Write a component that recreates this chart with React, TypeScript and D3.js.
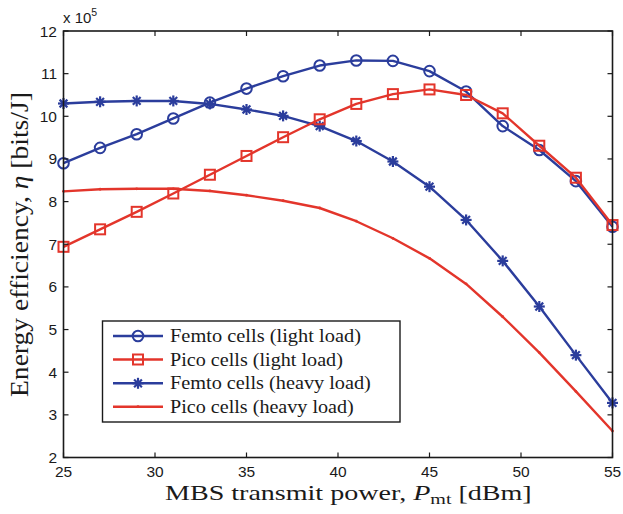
import React, { useLayoutEffect, useRef, useState } from "react";
import * as d3 from "d3";

const xPower = [25, 27, 29, 31, 33, 35, 37, 39, 41, 43, 45, 47, 49, 51, 53, 55];
const femtoLight = [8.9, 9.26, 9.58, 9.95, 10.32, 10.65, 10.94, 11.19, 11.31, 11.3, 11.06, 10.58, 9.77, 9.21, 8.48, 7.41];
const picoLight = [6.94, 7.35, 7.76, 8.19, 8.63, 9.07, 9.51, 9.93, 10.29, 10.52, 10.63, 10.5, 10.07, 9.31, 8.56, 7.45];
const femtoHeavy = [10.3, 10.34, 10.36, 10.36, 10.29, 10.16, 10.01, 9.77, 9.42, 8.94, 8.35, 7.57, 6.61, 5.54, 4.4, 3.28];
const picoHeavy = [8.24, 8.29, 8.3, 8.3, 8.25, 8.15, 8.02, 7.85, 7.54, 7.14, 6.67, 6.07, 5.3, 4.46, 3.55, 2.62];
const xTicks = [25, 30, 35, 40, 45, 50, 55];
const yTicks = [2, 3, 4, 5, 6, 7, 8, 9, 10, 11, 12];
const legendLabels = [
  "Femto cells (light load)",
  "Pico cells (light load)",
  "Femto cells (heavy load)",
  "Pico cells (heavy load)",
];

const BLUE = "#2b3d9c";
const RED = "#e3352b";

const W = 623, H = 514;
const L = 63.5, R = 612.5, T = 31, B = 457.5;

const tickStyle = { fontFamily: "'Liberation Sans', Arial, Helvetica, sans-serif" };
const serifStyle = { fontFamily: "'Liberation Serif', 'Times New Roman', Times, serif" };

// Text stretched horizontally (in its own direction) to a target width
function FitText({ x, y, width, rotate = 0, fontSize, anchor = "start", children }: any) {
  const ref = useRef<SVGTextElement>(null);
  const [s, setS] = useState(1);
  useLayoutEffect(() => {
    if (ref.current) {
      const w = ref.current.getBBox().width;
      if (w > 0) setS(width / w);
    }
  }, [width]);
  return (
    <g transform={`translate(${x},${y}) rotate(${rotate}) scale(${s},1)`}>
      <text ref={ref} x={0} y={0} textAnchor={anchor} style={serifStyle} fontSize={fontSize} fill="#1a1a1a">
        {children}
      </text>
    </g>
  );
}

function Marker({ kind, x, y, color }: { kind: string; x: number; y: number; color: string }) {
  if (kind === "circle")
    return <circle cx={x} cy={y} r={5.3} fill="none" stroke={color} strokeWidth={2} />;
  if (kind === "square")
    return <rect x={x - 5} y={y - 5} width={10} height={10} fill="none" stroke={color} strokeWidth={2} />;
  if (kind === "star") {
    const r = 5.5;
    const lines = [0, 45, 90, 135].map((a) => {
      const rad = (a * Math.PI) / 180;
      return (
        <line key={a} x1={x - r * Math.cos(rad)} y1={y - r * Math.sin(rad)} x2={x + r * Math.cos(rad)} y2={y + r * Math.sin(rad)} stroke={color} strokeWidth={2.2} />
      );
    });
    return <g>{lines}<circle cx={x} cy={y} r={2.5} fill={color} /></g>;
  }
  if (kind === "point") return <circle cx={x} cy={y} r={1.4} fill={color} />;
  return null;
}

export default function App() {
  const x = d3.scaleLinear().domain([25, 55]).range([L, R]);
  const y = d3.scaleLinear().domain([2, 12]).range([B, T]);
  const line = d3.line<number>().x((_, i) => x(xPower[i])).y((d) => y(d));

  const series = [
    { data: femtoLight, color: BLUE, kind: "circle" },
    { data: picoLight, color: RED, kind: "square" },
    { data: femtoHeavy, color: BLUE, kind: "star" },
    { data: picoHeavy, color: RED, kind: "point" },
  ];
  const order = [3, 2, 0, 1];

  const legX = 102.5, legY = 321, legW = 297.5, legH = 101;
  const legRows = [336, 359.5, 383.3, 406.7];
  const legWidths = [191, 173, 201, 184];

  return (
    <svg width={W} height={H} style={{ position: "absolute", left: 0, top: 0 }}>
      <rect x={0} y={0} width={W} height={H} fill="#fff" />
      {order.map((si) => {
        const s = series[si];
        return (
          <g key={si}>
            <path d={line(s.data) || ""} fill="none" stroke={s.color} strokeWidth={2.4} strokeLinejoin="round" />
            {s.data.map((v, i) => (
              <Marker key={i} kind={s.kind} x={x(xPower[i])} y={y(v)} color={s.color} />
            ))}
          </g>
        );
      })}
      <rect x={L} y={T} width={R - L} height={B - T} fill="none" stroke="#1a1a1a" strokeWidth={1.6} />
      {xTicks.map((t) => (
        <g key={"x" + t}>
          <line x1={x(t)} x2={x(t)} y1={B} y2={B - 5} stroke="#1a1a1a" strokeWidth={1.2} />
          <line x1={x(t)} x2={x(t)} y1={T} y2={T + 5} stroke="#1a1a1a" strokeWidth={1.2} />
          <text x={x(t)} y={476.5} textAnchor="middle" style={tickStyle} fontSize={15.5} fill="#1a1a1a">{t}</text>
        </g>
      ))}
      {yTicks.map((t) => (
        <g key={"y" + t}>
          <line x1={L} x2={L + 5} y1={y(t)} y2={y(t)} stroke="#1a1a1a" strokeWidth={1.2} />
          <line x1={R} x2={R - 5} y1={y(t)} y2={y(t)} stroke="#1a1a1a" strokeWidth={1.2} />
          <text x={57} y={y(t) + 5.5} textAnchor="end" style={tickStyle} fontSize={15.5} fill="#1a1a1a">{t}</text>
        </g>
      ))}
      <text x={63} y={23} style={tickStyle} fontSize={15} fill="#1a1a1a">
        x 10<tspan fontSize={10.5} dy={-7}>5</tspan>
      </text>
      <FitText x={165} y={499.5} width={367} fontSize={21}>
        MBS transmit power, <tspan fontStyle="italic">P</tspan><tspan fontSize={15} dy={4}>mt</tspan><tspan dy={-4}> [dBm]</tspan>
      </FitText>
      <FitText x={27.5} y={397} width={305} rotate={-90} fontSize={26}>
        Energy efficiency, <tspan fontStyle="italic">η</tspan> [bits/J]
      </FitText>
      <rect x={legX} y={legY} width={legW} height={legH} fill="#fff" stroke="#1a1a1a" strokeWidth={1.4} />
      {series.map((s, i) => (
        <g key={"l" + i}>
          <line x1={113} x2={163} y1={legRows[i]} y2={legRows[i]} stroke={s.color} strokeWidth={2.4} />
          <Marker kind={s.kind} x={138} y={legRows[i]} color={s.color} />
          <FitText x={170} y={legRows[i] + 6} width={legWidths[i]} fontSize={18}>{legendLabels[i]}</FitText>
        </g>
      ))}
    </svg>
  );
}
